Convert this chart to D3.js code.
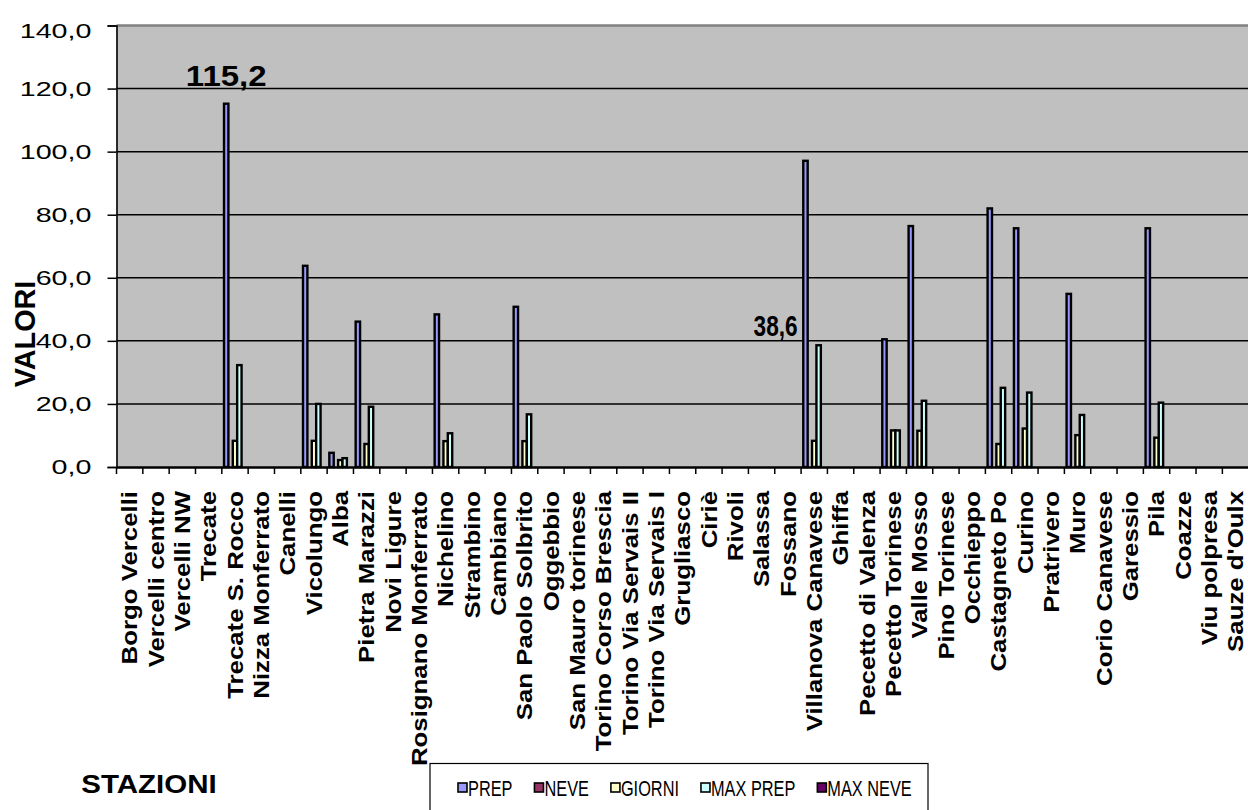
<!DOCTYPE html>
<html><head><meta charset="utf-8">
<script src="https://cdn.jsdelivr.net/npm/d3@7/dist/d3.min.js"></script>
<style>
body{margin:0;background:#fff}
svg{display:block}
text{font-family:"Liberation Sans",Arial,sans-serif;fill:#000}
</style>
</head><body>
<svg id="chart" width="1248" height="810"></svg>
<script>
// ---- data ----
const stations = ["Borgo Vercelli","Vercelli centro","Vercelli NW","Trecate","Trecate S. Rocco","Nizza Monferrato","Canelli","Vicolungo","Alba","Pietra Marazzi","Novi Ligure","Rosignano Monferrato","Nichelino","Strambino","Cambiano","San Paolo Solbrito","Oggebbio","San Mauro torinese","Torino Corso Brescia","Torino Via Servais II","Torino Via Servais I","Grugliasco","Ciriè","Rivoli","Salassa","Fossano","Villanova Canavese","Ghiffa","Pecetto di Valenza","Pecetto Torinese","Valle Mosso","Pino Torinese","Occhieppo","Castagneto Po","Curino","Pratrivero","Muro","Corio Canavese","Garessio","Pila","Coazze","Viu polpresa","Sauze d'Oulx"];
const seriesNames = ["PREP","NEVE","GIORNI","MAX PREP","MAX NEVE"];
const prep    = [0,0,0,0,115.2,0,0,63.8,4.5,46.1,0,0,48.4,0,0,50.8,0,0,0,0,0,0,0,0,0,0,97.1,0,0,40.5,76.4,0,0,82.0,75.7,0,54.9,0,0,75.7,0,0,0];
const neve    = [0,0,0,0,0,0,0,0,0,0,0,0,0,0,0,0,0,0,0,0,0,0,0,0,0,0,0,0,0,0,0,0,0,0,0,0,0,0,0,0,0,0,0];
const giorni  = [0,0,0,0,8.3,0,0,8.3,2.2,7.3,0,0,8.2,0,0,8.2,0,0,0,0,0,0,0,0,0,0,8.3,0,0,11.6,11.5,0,0,7.3,12.2,0,10.1,0,0,9.3,0,0,0];
const maxPrep = [0,0,0,0,32.3,0,0,20.0,2.8,19.1,0,0,10.7,0,0,16.7,0,0,0,0,0,0,0,0,0,0,38.6,0,0,11.6,21.0,0,0,25.1,23.6,0,16.5,0,0,20.4,0,0,0];
const maxNeve = [0,0,0,0,0,0,0,0,0,0,0,0,0,0,0,0,0,0,0,0,0,0,0,0,0,0,0,0,0,0,0,0,0,0,0,0,0,0,0,0,0,0,0];
const yTicks = [0,20,40,60,80,100,120,140];
const labelledPoints = [["Trecate S. Rocco","PREP"],["Villanova Canavese","MAX PREP"]];
const colors = ["#9999ff","#993366","#ffffcc","#ccffff","#660066"];

const seriesValues = [prep, neve, giorni, maxPrep, maxNeve];
const fmt = v => d3.format(".1f")(v).replace(".", ",");

// ---- layout ----
const svg = d3.select("#chart");
const pLeft = 116.5, pRight = 1248.7, pTop = 25.5, pBottom = 467;

const x = d3.scaleBand().domain(stations).range([pLeft, pRight]).padding(0);
const xs = d3.scaleBand().domain(seriesNames).range([0, x.bandwidth()]).paddingInner(0).paddingOuter(0.5);
const y = d3.scaleLinear().domain([0, 140]).range([pBottom, pTop]);

// plot area
svg.append("rect").attr("x", pLeft).attr("y", pTop).attr("width", pRight - pLeft).attr("height", pBottom - pTop)
  .attr("fill", "#c0c0c0");

// gridlines
svg.append("g").selectAll("line").data(yTicks.filter(t => t > 0 && t < 140)).join("line")
  .attr("x1", pLeft).attr("x2", pRight).attr("y1", d => y(d)).attr("y2", d => y(d))
  .attr("stroke", "#000").attr("stroke-width", 1.5);

// top border
svg.append("line").attr("x1", pLeft).attr("x2", pRight).attr("y1", y(140)).attr("y2", y(140))
  .attr("stroke", "#808080").attr("stroke-width", 2.6);

// bars
const rows = stations.map((s, i) => ({ s, vals: seriesNames.map((n, k) => ({ s, n, k, v: seriesValues[k][i] })) }));
svg.append("g").selectAll("g").data(rows).join("g")
  .attr("transform", d => `translate(${x(d.s)},0)`)
  .selectAll("rect").data(d => d.vals.filter(e => e.v > 0)).join("rect")
  .attr("x", d => xs(d.n)).attr("width", xs.bandwidth())
  .attr("y", d => y(d.v)).attr("height", d => y(0) - y(d.v))
  .attr("fill", d => colors[d.k]).attr("stroke", "#000").attr("stroke-width", 2.4);

// y axis
const yAxis = svg.append("g").attr("transform", `translate(${pLeft},0)`)
  .call(d3.axisLeft(y).tickValues(yTicks).tickSize(9).tickPadding(0).tickFormat(""));
yAxis.select(".domain").attr("stroke", "#000").attr("stroke-width", 1.6);
yAxis.selectAll(".tick line").attr("stroke", "#000").attr("stroke-width", 1.5);
svg.append("g").selectAll("text").data(yTicks).join("text")
  .attr("transform", d => `translate(91.5,${Math.max(y(d), 31)}) scale(1.4,1)`)
  .attr("text-anchor", "end").attr("dy", "0.36em")
  .style("font-size", "20.5px").text(d => fmt(d));

// x axis
const xAxis = svg.append("g").attr("transform", `translate(0,${pBottom})`)
  .call(d3.axisBottom(x).tickSize(0).tickFormat(""));
xAxis.select(".domain").attr("stroke", "#000").attr("stroke-width", 2.4);
svg.append("g").selectAll("line").data(stations).join("line")
  .attr("x1", d => x(d)).attr("x2", d => x(d)).attr("y1", pBottom).attr("y2", pBottom + 7)
  .attr("stroke", "#000").attr("stroke-width", 1.5);
svg.append("g").selectAll("text").data(stations).join("text")
  .attr("transform", d => `translate(${x(d) + x.bandwidth() / 2},491) rotate(-90) scale(1.2,1)`)
  .attr("text-anchor", "end").attr("dy", "0.36em")
  .style("font-size", "21.5px").style("font-weight", "bold").text(d => d);

// data labels
svg.append("g").selectAll("text").data(labelledPoints).join("text")
  .each(function ([s, n], i) {
    const k = seriesNames.indexOf(n);
    const v = seriesValues[k][stations.indexOf(s)];
    const cx = x(s) + xs(n) + xs.bandwidth() / 2;
    const t = d3.select(this).style("font-weight", "bold").text(fmt(v));
    if (i === 0) {
      t.attr("transform", `translate(${cx},${y(v) - 18}) scale(1.1,1)`).attr("text-anchor", "middle").style("font-size", "30px");
    } else {
      t.attr("transform", `translate(${cx - 21},${y(v) - 9}) scale(0.78,1)`).attr("text-anchor", "end").style("font-size", "29px");
    }
  });

// axis titles
svg.append("text").attr("transform", "translate(35,334) rotate(-90) scale(0.96,1)")
  .attr("text-anchor", "middle").style("font-size", "30px").style("font-weight", "bold").text("VALORI");
svg.append("text").attr("transform", "translate(149,793) scale(1.18,1)")
  .attr("text-anchor", "middle").style("font-size", "25px").style("font-weight", "bold").text("STAZIONI");

// legend
const lg = svg.append("g");
lg.append("rect").attr("x", 430).attr("y", 763.5).attr("width", 498).attr("height", 70)
  .attr("fill", "#fff").attr("stroke", "#000").attr("stroke-width", 1.2);
let lx = 458;
seriesNames.forEach((n, k) => {
  lg.append("rect").attr("x", lx).attr("y", 783).attr("width", 9).attr("height", 9)
    .attr("fill", colors[k]).attr("stroke", "#000").attr("stroke-width", 1.6);
  const t = lg.append("text").attr("transform", `translate(${lx + 10},795.5) scale(0.76,1)`)
    .style("font-size", "21.5px").text(n);
  const w = t.node().getComputedTextLength() * 0.76;
  lx += 10 + w + 22;
});
</script>
</body></html>
